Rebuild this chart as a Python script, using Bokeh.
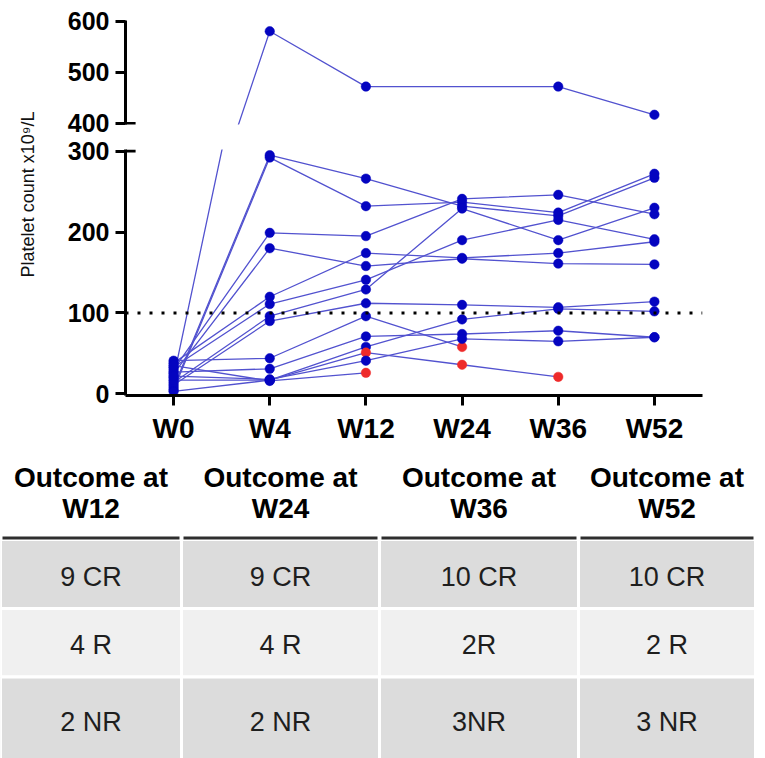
from bokeh.plotting import figure
from bokeh.models import FactorRange, Range1d, FixedTicker, Span, ColumnDataSource
from bokeh.layouts import column, row
from bokeh.embed import file_html
from bokeh.resources import INLINE
from bokeh.core.properties import value

# ---------------- data ----------------
weeks = ["W0", "W4", "W12", "W24", "W36", "W52"]

p01 = [20, 580, 472, None, 472, 417]
p02 = [8, 295, 266, 232, 220, 267]
p03 = [5, 292, 232, 237, 224, 272]
p04 = [30, 199, 195, 241, 246, 222]
p05 = [25, 180, 158, 167, 161, 160]
p06 = [38, 120, 174, 168, 174, 188]
p07 = [33, 111, 141, 190, 215, 191]
p08 = [14, 96, 129, 229, 190, 230]
p09 = [11, 90, 112, 110, 107, 114]
p10 = [41, 44, 96, 58, None, None]
p11 = [27, 31, 71, 74, 78, 70]
p12 = [3, 17, 58, 92, 105, 102]
p13 = [17, 17, 51, 36, 21, None]
p14 = [22, 18, 41, 68, 65, 70]
p15 = [35, 16, 26, None, None, None]
patients = [p01, p02, p03, p04, p05, p06, p07, p08, p09, p10,
            p11, p12, p13, p14, p15]

# points drawn in red (patient number, week)
nr_patient = [10, 13, 13, 13, 15]
nr_week = ["W24", "W12", "W24", "W36", "W12"]

threshold = 100
y_ticks_top = [400, 500, 600]
y_ticks_bottom = [0, 100, 200, 300]
y_title = "Platelet count x10\u2079/L"

outcome_header = ["Outcome at", "Outcome at", "Outcome at", "Outcome at"]
outcome_weeks = ["W12", "W24", "W36", "W52"]
cr_row = ["9 CR", "9 CR", "10 CR", "10 CR"]
r_row = ["4 R", "4 R", "2R", "2 R"]
nr_row = ["2 NR", "2 NR", "3NR", "3 NR"]

# ---------------- styles ----------------
FONT = "Liberation Sans"
LINE_COLOR = "#5252cf"
DOT_COLOR = "#0404c0"
RED = "#ee2a2a"

# ---------------- sources ----------------
xs, ys = [], []
px, py, pc = [], [], []
nr_set = set(zip(nr_patient, nr_week))
for i, vals in enumerate(patients, start=1):
    lx, ly = [], []
    for w, v in zip(weeks, vals):
        if v is None:
            continue
        lx.append(w)
        ly.append(v)
        px.append(w)
        py.append(v)
        pc.append(RED if (i, w) in nr_set else DOT_COLOR)
    xs.append(lx)
    ys.append(ly)

line_src = ColumnDataSource(dict(xs=xs, ys=ys))
pt_src = ColumnDataSource(dict(x=px, y=py, c=pc))

xr = FactorRange(factors=weeks)


def style_axis(ax, size):
    ax.axis_line_width = 3
    ax.axis_line_color = "black"
    ax.major_tick_line_width = 3
    ax.major_tick_line_color = "black"
    ax.major_tick_out = 10
    ax.major_tick_in = 0
    ax.minor_tick_line_color = None
    ax.major_label_text_font = FONT
    ax.major_label_text_font_style = "bold"
    ax.major_label_text_font_size = size
    ax.major_label_text_color = "black"
    ax.major_label_standoff = 6


def draw_data(p):
    p.multi_line(xs="xs", ys="ys", source=line_src, line_color=LINE_COLOR,
                 line_width=1.3)
    p.scatter(x="x", y="y", source=pt_src, size=9.5, fill_color="c",
              line_color="c", line_width=0.5)


# ---------------- top panel (400-600) ----------------
top = figure(width=709, height=136, x_range=xr, y_range=Range1d(398, 601),
             output_backend="svg", toolbar_location=None, x_axis_location=None,
             min_border_left=69, min_border_right=63, min_border_top=20,
             min_border_bottom=12, outline_line_color=None)
top.grid.visible = False
style_axis(top.yaxis[0], "25px")
top.yaxis[0].ticker = FixedTicker(ticks=y_ticks_top)
draw_data(top)
# axis-break tick
top.segment(x0=[0], x1=[0.105], y0=[y_ticks_top[0]], y1=[y_ticks_top[0]],
            line_width=3, line_color="black")

# ---------------- bottom panel (0-300) ----------------
bottom = figure(width=709, height=314, x_range=xr, y_range=Range1d(-2, 302),
                output_backend="svg", toolbar_location=None,
                min_border_left=69, min_border_right=63, min_border_top=13,
                min_border_bottom=55, outline_line_color=None)
bottom.grid.visible = False
style_axis(bottom.yaxis[0], "25px")
bottom.yaxis[0].ticker = FixedTicker(ticks=y_ticks_bottom)
style_axis(bottom.xaxis[0], "28px")
bottom.xaxis[0].major_label_standoff = 7
bottom.add_layout(Span(location=threshold, dimension="width", line_color="black",
                       line_width=3, line_dash="3 9"))
draw_data(bottom)
bottom.segment(x0=[0], x1=[0.105], y0=[y_ticks_bottom[-1]], y1=[y_ticks_bottom[-1]],
               line_width=3, line_color="black")

# ---------------- y title ----------------
lab = figure(width=56, height=450, x_range=Range1d(0, 56), y_range=Range1d(0, 450),
             output_backend="svg", toolbar_location=None, x_axis_location=None,
             y_axis_location=None, min_border=0, outline_line_color=None)
lab.grid.visible = False
lab.text(x=[27], y=[256], text=[y_title], angle=1.5707963, text_align="center",
         text_baseline="middle", text_font=value(FONT), text_font_size="18px",
         text_color="#111111")

# ---------------- table ----------------
col_edges = [0, 181, 379, 578, 755]
row_edges = [539, 608, 676.5, 770]
row_colors = ["#dcdcdc", "#f0f0f0", "#dcdcdc"]
head_y1, head_y2 = 477, 508
body_y = [576, 644, 721]

tab = figure(width=765, height=308, x_range=Range1d(0, 765), y_range=Range1d(758, 450),
             output_backend="svg", toolbar_location=None, x_axis_location=None,
             y_axis_location=None, min_border=0, outline_line_color=None)
tab.grid.visible = False

ql, qr, qt, qb, qc = [], [], [], [], []
for ri in range(3):
    for ci in range(4):
        ql.append(col_edges[ci])
        qr.append(col_edges[ci + 1])
        qt.append(row_edges[ri])
        qb.append(row_edges[ri + 1])
        qc.append(row_colors[ri])
tab.quad(left=ql, right=qr, top=qt, bottom=qb, fill_color=qc, line_color="white",
         line_width=3)
tab.segment(x0=[e + 2 for e in col_edges[:-1]], x1=[e - 2 for e in col_edges[1:]],
            y0=[row_edges[0] - 1.5] * 4, y1=[row_edges[0] - 1.5] * 4,
            line_width=3, line_color="#2e2e2e")

centers = [(a + b) / 2 for a, b in zip(col_edges[:-1], col_edges[1:])]
tab.text(x=centers, y=[head_y1] * 4, text=outcome_header, text_align="center",
         text_baseline="middle", text_font=value(FONT), text_font_style="bold",
         text_font_size="28px", text_color="black")
tab.text(x=centers, y=[head_y2] * 4, text=outcome_weeks, text_align="center",
         text_baseline="middle", text_font=value(FONT), text_font_style="bold",
         text_font_size="28px", text_color="black")
for yv, vals in zip(body_y, [cr_row, r_row, nr_row]):
    tab.text(x=centers, y=[yv] * 4, text=vals, text_align="center",
             text_baseline="middle", text_font=value(FONT), text_font_size="27px",
             text_color="#1e1e1e")

layout = column(row(lab, column(top, bottom, spacing=0), spacing=0), tab, spacing=0)

open("out.html", "w").write(file_html(layout, INLINE))
